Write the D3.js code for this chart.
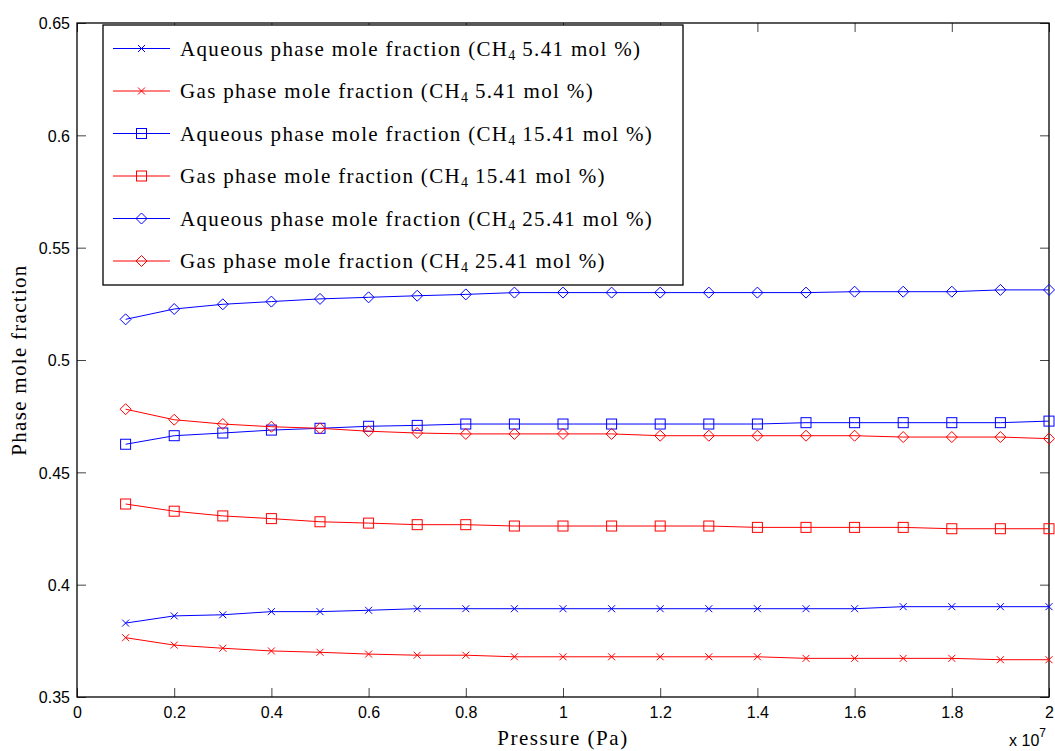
<!DOCTYPE html>
<html>
<head>
<meta charset="utf-8">
<script src="https://cdn.jsdelivr.net/npm/d3@7"></script>
<style>
  html, body { margin: 0; padding: 0; background: #fff; }
  svg { display: block; }
</style>
</head>
<body>
<svg id="chart" width="1055" height="751"></svg>
<script>
// Pressure in Pa (0.1 ... 2.0 x 10^7)
const pressure = [1e6, 2e6, 3e6, 4e6, 5e6, 6e6, 7e6, 8e6, 9e6, 1e7,
                  1.1e7, 1.2e7, 1.3e7, 1.4e7, 1.5e7, 1.6e7, 1.7e7, 1.8e7, 1.9e7, 2e7];

// CH4 5.41 mol %
const aqueous541 = [0.3829, 0.3861, 0.3866, 0.3880, 0.3880, 0.3886, 0.3893, 0.3893, 0.3893, 0.3893,
                    0.3893, 0.3893, 0.3893, 0.3893, 0.3893, 0.3893, 0.3902, 0.3902, 0.3902, 0.3902];
const gas541 = [0.3764, 0.3731, 0.3717, 0.3705, 0.3699, 0.3691, 0.3686, 0.3686, 0.3679, 0.3679,
                0.3679, 0.3679, 0.3679, 0.3679, 0.3672, 0.3672, 0.3672, 0.3672, 0.3666, 0.3666];

// CH4 15.41 mol %
const aqueous1541 = [0.4625, 0.4663, 0.4675, 0.4688, 0.4696, 0.4705, 0.4709, 0.4715, 0.4715, 0.4715,
                     0.4715, 0.4715, 0.4715, 0.4715, 0.4721, 0.4721, 0.4721, 0.4721, 0.4721, 0.4728];
const gas1541 = [0.4359, 0.4327, 0.4306, 0.4294, 0.4280, 0.4274, 0.4267, 0.4267, 0.4261, 0.4261,
                 0.4261, 0.4261, 0.4261, 0.4255, 0.4255, 0.4255, 0.4255, 0.4249, 0.4249, 0.4249];

// CH4 25.41 mol %
const aqueous2541 = [0.5181, 0.5227, 0.5248, 0.5260, 0.5272, 0.5279, 0.5286, 0.5292, 0.5300, 0.5300,
                     0.5300, 0.5300, 0.5300, 0.5300, 0.5300, 0.5304, 0.5304, 0.5304, 0.5312, 0.5312];
const gas2541 = [0.4781, 0.4734, 0.4715, 0.4703, 0.4696, 0.4683, 0.4675, 0.4671, 0.4671, 0.4671,
                 0.4671, 0.4663, 0.4663, 0.4663, 0.4663, 0.4663, 0.4657, 0.4657, 0.4657, 0.4650];

const seriesNames = [
  ["Aqueous phase mole fraction (CH", "5.41 mol %)"],
  ["Gas phase mole fraction (CH", "5.41 mol %)"],
  ["Aqueous phase mole fraction (CH", "15.41 mol %)"],
  ["Gas phase mole fraction (CH", "15.41 mol %)"],
  ["Aqueous phase mole fraction (CH", "25.41 mol %)"],
  ["Gas phase mole fraction (CH", "25.41 mol %)"]
];
const seriesValues = [aqueous541, gas541, aqueous1541, gas1541, aqueous2541, gas2541];
const seriesColors = ["#0000ff", "#ff0000", "#0000ff", "#ff0000", "#0000ff", "#ff0000"];
const seriesMarkers = ["cross", "cross", "square", "square", "diamond", "diamond"];

const xTickValues = [0, 0.2e7, 0.4e7, 0.6e7, 0.8e7, 1e7, 1.2e7, 1.4e7, 1.6e7, 1.8e7, 2e7];
const yTickValues = [0.35, 0.4, 0.45, 0.5, 0.55, 0.6, 0.65];

const svg = d3.select("#chart");
const plot = { left: 77, right: 1049, top: 23, bottom: 697 };

const x = d3.scaleLinear().domain([0, 2e7]).range([plot.left, plot.right]);
const y = d3.scaleLinear().domain([0.35, 0.65]).range([plot.bottom, plot.top]);

const tickFont = "'Liberation Sans', Arial, sans-serif";
const serifFont = "'Liberation Serif', 'Times New Roman', serif";
const tickLen = 9;

// axes (boxed axes with inward ticks)
const fmtX = d => d3.format("~g")(+(d / 1e7).toFixed(2));
const fmtY = d => d3.format("~g")(+d.toFixed(2));

const axBottom = svg.append("g").attr("transform", `translate(0,${plot.bottom})`)
  .call(d3.axisBottom(x).tickValues(xTickValues).tickSize(-tickLen).tickPadding(10).tickFormat(fmtX));
const axTop = svg.append("g").attr("transform", `translate(0,${plot.top})`)
  .call(d3.axisTop(x).tickValues(xTickValues).tickSize(-tickLen).tickFormat(""));
const axLeft = svg.append("g").attr("transform", `translate(${plot.left},0)`)
  .call(d3.axisLeft(y).tickValues(yTickValues).tickSize(-tickLen).tickPadding(7).tickFormat(fmtY));
const axRight = svg.append("g").attr("transform", `translate(${plot.right},0)`)
  .call(d3.axisRight(y).tickValues(yTickValues).tickSize(-tickLen).tickFormat(""));

[axBottom, axTop, axLeft, axRight].forEach(g => {
  g.select(".domain").remove();
  g.selectAll(".tick line").attr("stroke", "#444").attr("stroke-width", 1);
  g.selectAll(".tick text").attr("font-family", tickFont).attr("font-size", 16).attr("fill", "#000");
});
axLeft.selectAll(".tick text").attr("dy", "0.36em");

// box
svg.append("rect")
  .attr("x", plot.left).attr("y", plot.top)
  .attr("width", plot.right - plot.left).attr("height", plot.bottom - plot.top)
  .attr("fill", "none").attr("stroke", "#000").attr("stroke-width", 1.3);

// exponent label
const expo = svg.append("text")
  .attr("x", plot.right - 3).attr("y", 746)
  .attr("text-anchor", "end")
  .attr("font-family", tickFont).attr("font-size", 16).attr("fill", "#000");
expo.append("tspan").text("x 10");
expo.append("tspan").attr("dy", -9).attr("font-size", 12).text("7");

// axis titles
const xTitle = svg.append("text")
  .attr("x", (plot.left + plot.right) / 2).attr("y", 745)
  .attr("text-anchor", "middle")
  .attr("font-family", serifFont).attr("font-size", 21).attr("fill", "#000")
  .text("Pressure (Pa)");
const yTitle = svg.append("text")
  .attr("transform", `translate(26,${(plot.top + plot.bottom) / 2}) rotate(-90)`)
  .attr("text-anchor", "middle")
  .attr("font-family", serifFont).attr("font-size", 21).attr("fill", "#000")
  .text("Phase mole fraction");

// marker drawing
function drawMarker(sel, type, color) {
  if (type === "cross") {
    sel.append("path").attr("d", "M-3.5,-3.5L3.5,3.5M-3.5,3.5L3.5,-3.5")
      .attr("stroke", color).attr("stroke-width", 1).attr("fill", "none");
  } else if (type === "square") {
    sel.append("rect").attr("x", -5).attr("y", -5).attr("width", 10).attr("height", 10)
      .attr("stroke", color).attr("stroke-width", 1).attr("fill", "none");
  } else {
    sel.append("path").attr("d", "M0,-5.5L5.5,0L0,5.5L-5.5,0Z")
      .attr("stroke", color).attr("stroke-width", 1).attr("fill", "none");
  }
}

// series
const line = d3.line().x(d => x(d[0])).y(d => y(d[1]));
seriesValues.forEach((vals, i) => {
  const pts = pressure.map((p, j) => [p, vals[j]]);
  const g = svg.append("g");
  g.append("path").datum(pts).attr("d", line)
    .attr("fill", "none").attr("stroke", seriesColors[i]).attr("stroke-width", 1);
  g.selectAll("g.m").data(pts).enter().append("g").attr("class", "m")
    .attr("transform", d => `translate(${x(d[0])},${y(d[1])})`)
    .each(function () { drawMarker(d3.select(this), seriesMarkers[i], seriesColors[i]); });
});

// legend
const legend = svg.append("g");
legend.append("rect")
  .attr("x", 103).attr("y", 25).attr("width", 580).attr("height", 260)
  .attr("fill", "#fff").attr("stroke", "#000").attr("stroke-width", 1.3);
const legendRow = 42.5;
const legendTexts = [];
seriesNames.forEach((nm, i) => {
  const cy = 48.5 + i * legendRow;
  const g = legend.append("g").attr("transform", `translate(0,${cy})`);
  g.append("line").attr("x1", 113).attr("x2", 170).attr("y1", 0).attr("y2", 0)
    .attr("stroke", seriesColors[i]).attr("stroke-width", 1);
  const m = g.append("g").attr("transform", "translate(141.5,0)");
  drawMarker(m, seriesMarkers[i], seriesColors[i]);
  const t = g.append("text").attr("x", 180).attr("y", 7)
    .attr("font-family", serifFont).attr("font-size", 21).attr("fill", "#000");
  t.append("tspan").text(nm[0]);
  t.append("tspan").attr("dy", 4).attr("font-size", 14).text("4");
  t.append("tspan").attr("dy", -4).text("\u2009" + nm[1]);
  legendTexts.push(t);
});

// widen the serif texts to TeX-like proportions
function fitWidth(t, target) {
  const n = t.text().length;
  const w = t.node().getComputedTextLength();
  t.attr("letter-spacing", ((target - w) / Math.max(1, n - 1)).toFixed(3));
}
const first = legendTexts[0];
const n0 = first.text().length;
const w0 = first.node().getComputedTextLength();
const ls = (460 - w0) / (n0 - 1);
legendTexts.forEach(t => t.attr("letter-spacing", ls.toFixed(3)));
fitWidth(xTitle, 130);
fitWidth(yTitle, 190);
</script>
</body>
</html>
